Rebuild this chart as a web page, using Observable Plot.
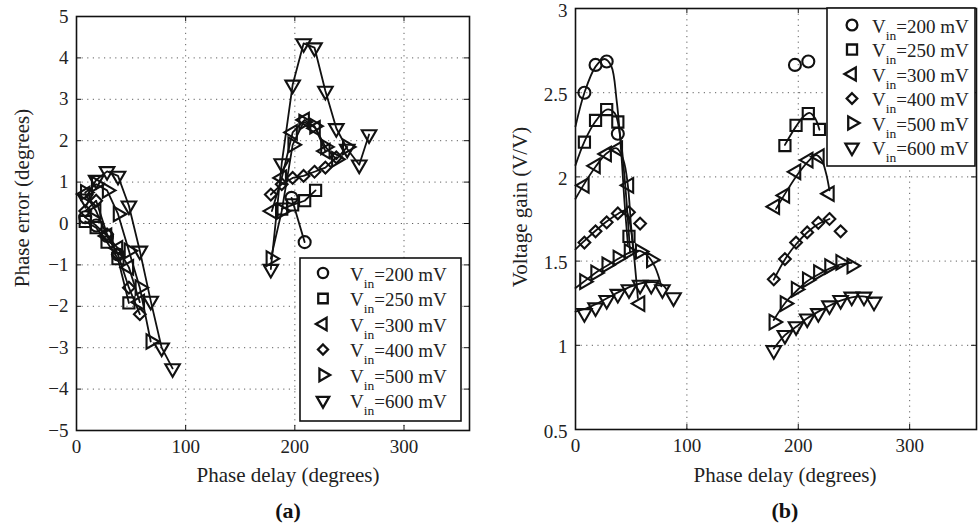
<!DOCTYPE html>
<html>
<head>
<meta charset="utf-8">
<script src="https://cdn.jsdelivr.net/npm/d3@7"></script>
<script src="https://cdn.jsdelivr.net/npm/@observablehq/plot@0.6"></script>
<style>
  html, body { margin: 0; padding: 0; background: #fff; }
  #wrap { position: relative; width: 979px; height: 528px; overflow: hidden; background: #fff; }
  .panel { position: absolute; top: 0; }
  #overlay { position: absolute; left: 0; top: 0; }
</style>
</head>
<body>
<div id="wrap">
  <div id="panelA" class="panel" style="left:0px"></div>
  <div id="panelB" class="panel" style="left:490px"></div>
</div>
<script>
// ---------------- data ----------------
const vinLabels = ["200", "250", "300", "400", "500", "600"];
const xTicks = [0, 100, 200, 300];
const errTicks = [-5, -4, -3, -2, -1, 0, 1, 2, 3, 4, 5];
const gainTicks = [0.5, 1, 1.5, 2, 2.5, 3];

// Vin = 200 mV
const delay200 = [8, 18, 28, 38, 197, 209];
const error200 = [0.15, -0.05, -0.3, -0.75, 0.62, -0.45];
const gain200  = [2.50, 2.665, 2.685, 2.256, 2.665, 2.685];
const fitDelay200 = [0, 8, 18, 26, 32, 37, 41, 44, 47];
const fitGain200  = [2.30, 2.50, 2.655, 2.70, 2.66, 2.45, 2.15, 1.85, 1.60];

// Vin = 250 mV
const delay250 = [8, 18, 28, 38, 48, 188, 198, 209, 219];
const error250 = [0.05, -0.1, -0.45, -0.85, -1.92, 0.35, 0.45, 0.55, 0.8];
const gain250  = [2.206, 2.335, 2.40, 2.326, 1.647, 2.186, 2.306, 2.376, 2.282];
const fitDelay250 = [0, 8, 18, 28, 35, 40, 44, 47, 49, null, 188, 198, 205, 210, 215, 219];
const fitGain250  = [2.07, 2.21, 2.33, 2.40, 2.38, 2.25, 2.0, 1.75, 1.55, null, 2.19, 2.30, 2.36, 2.38, 2.35, 2.28];

// Vin = 300 mV
const delay300 = [8, 18, 28, 38, 48, 58, 179, 188, 198, 209, 219, 228];
const error300 = [0.71, 0.3, -0.3, -0.6, -1.06, -1.9, 0.3, 1.1, 2.2, 2.5, 2.3, 1.75];
const gain300  = [1.95, 2.066, 2.136, 2.166, 1.95, 1.248, 1.823, 1.89, 2.03, 2.10, 2.12, 1.90];
const fitDelay300 = [0, 8, 18, 28, 37, 43, 47, 50, 53, 56, null, 180, 190, 200, 210, 216, 221, 225, 228];
const fitGain300  = [1.87, 1.96, 2.06, 2.14, 2.17, 2.1, 1.95, 1.7, 1.5, 1.28, null, 1.81, 1.92, 2.02, 2.10, 2.13, 2.10, 2.02, 1.92];

// Vin = 400 mV
const delay400 = [8, 18, 28, 38, 48, 58, 178, 188, 198, 208, 218, 228, 238];
const error400 = [0.3, 0.55, -0.26, -0.75, -1.55, -2.19, 0.7, 0.95, 1.1, 1.15, 1.25, 1.35, 1.6];
const gain400  = [1.61, 1.677, 1.73, 1.783, 1.79, 1.723, 1.392, 1.512, 1.61, 1.67, 1.727, 1.75, 1.677];
const fitDelay400 = [0, 8, 18, 28, 38, 45, 49, 52, null, 178, 188, 198, 208, 218, 228];
const fitGain400  = [1.57, 1.62, 1.68, 1.735, 1.78, 1.80, 1.72, 1.55, null, 1.39, 1.51, 1.60, 1.67, 1.72, 1.75];

// Vin = 500 mV
const delay500 = [8, 18, 28, 38, 48, 58, 68, 178, 188, 198, 208, 218, 228, 238, 248];
const error500 = [0.75, 0.95, 0.8, 0.23, -0.66, -1.55, -2.85, -0.85, 0.3, 1.9, 2.45, 2.35, 1.85, 1.55, 1.85];
const gain500  = [1.378, 1.43, 1.478, 1.518, 1.557, 1.557, 1.507, 1.138, 1.248, 1.332, 1.388, 1.432, 1.468, 1.492, 1.472];
const fitDelay500 = [0, 10, 20, 30, 40, 50, 58, 65, 71, 75, 77, null, 178, 188, 198, 208, 218, 228, 238, 248];
const fitGain500  = [1.34, 1.39, 1.44, 1.48, 1.52, 1.555, 1.56, 1.53, 1.47, 1.4, 1.35, null, 1.15, 1.25, 1.32, 1.38, 1.42, 1.455, 1.48, 1.49];

// Vin = 600 mV
const delay600 = [8, 18, 28, 38, 48, 58, 68, 78, 88, 178, 188, 198, 208, 218, 228, 238, 248, 259, 268];
const error600 = [0.6, 1.05, 1.26, 1.15, 0.43, -0.66, -1.87, -3.0, -3.5, -1.1, 1.45, 3.35, 4.35, 4.25, 3.2, 2.3, 1.8, 1.42, 2.15];
const gain600  = [1.19, 1.224, 1.268, 1.304, 1.332, 1.358, 1.358, 1.332, 1.284, 0.97, 1.06, 1.112, 1.158, 1.19, 1.236, 1.268, 1.288, 1.288, 1.258];
const fitDelay600 = [0, 10, 20, 30, 40, 50, 60, 70, 78, 82, null, 178, 188, 198, 208, 218, 228, 238, 248, 258, 266];
const fitGain600  = [1.2, 1.22, 1.25, 1.285, 1.32, 1.35, 1.37, 1.375, 1.36, 1.33, null, 0.98, 1.06, 1.11, 1.16, 1.20, 1.235, 1.265, 1.285, 1.29, 1.28];

// ---------------- assembly ----------------
const seriesData = {
  "200": {delay: delay200, err: error200, gain: gain200, fd: fitDelay200, fg: fitGain200},
  "250": {delay: delay250, err: error250, gain: gain250, fd: fitDelay250, fg: fitGain250},
  "300": {delay: delay300, err: error300, gain: gain300, fd: fitDelay300, fg: fitGain300},
  "400": {delay: delay400, err: error400, gain: gain400, fd: fitDelay400, fg: fitGain400},
  "500": {delay: delay500, err: error500, gain: gain500, fd: fitDelay500, fg: fitGain500},
  "600": {delay: delay600, err: error600, gain: gain600, fd: fitDelay600, fg: fitGain600}
};
const markerStyle = {
  "200": {symbol: "circle",   rotate: 0,   r: 6.0},
  "250": {symbol: "square",   rotate: 0,   r: 6.3},
  "300": {symbol: "triangle", rotate: -90, r: 5.4},
  "400": {symbol: "diamond2", rotate: 0,   r: 5.3},
  "500": {symbol: "triangle", rotate: 90,  r: 5.4},
  "600": {symbol: "triangle", rotate: 180, r: 5.4}
};
const INK = "#111";
const FONT = "Liberation Serif, Times New Roman, serif";

function measured(v) {
  const s = seriesData[v];
  return s.delay.map((d, i) => ({delay: d, err: s.err[i], gain: s.gain[i], cluster: d < 120 ? "low" : "high"}));
}
function fitted(v) {
  const s = seriesData[v];
  return s.fd.map((d, i) => ({delay: d, gain: s.fg[i]}));
}
const fmt = d => (d < 0 ? "\u2212" + Math.abs(d) : String(d));

function frameMarks(cfg) {
  const pw = cfg.width - cfg.marginLeft - cfg.marginRight;
  const ph = cfg.height - cfg.marginTop - cfg.marginBottom;
  const yInner = cfg.yTicks.filter(t => t > cfg.yDomain[0] && t < cfg.yDomain[1]);
  const xInner = xTicks.filter(t => t > 0);
  const grid = {stroke: "#444", strokeOpacity: 0.85, strokeWidth: 1, strokeDasharray: "1.2,4.4"};
  return [
    Plot.ruleX(xInner, {...grid}),
    Plot.ruleY(yInner, {...grid}),
    Plot.ruleX(xTicks, {insetTop: ph - 5, stroke: INK, strokeWidth: 1}),
    Plot.ruleX(xTicks, {insetBottom: ph - 5, stroke: INK, strokeWidth: 1}),
    Plot.ruleY(cfg.yTicks, {insetRight: pw - 5, stroke: INK, strokeWidth: 1}),
    Plot.ruleY(cfg.yTicks, {insetLeft: pw - 5, stroke: INK, strokeWidth: 1})
  ];
}

function axesMarks(cfg) {
  return [
    Plot.frame({stroke: INK, strokeWidth: 1.6}),
    Plot.axisX({ticks: xTicks, tickSize: 0, tickPadding: 9, fontSize: 19, tickFormat: fmt, label: null, fill: "#222"}),
    Plot.axisY({ticks: cfg.yTicks, tickSize: 0, tickPadding: 8, fontSize: 19, tickFormat: fmt, label: null, fill: "#222", dy: cfg.labelDy})
  ];
}

function dotMarks(key) {
  return vinLabels.map(v => {
    const st = markerStyle[v];
    return Plot.dot(measured(v), {
      x: "delay", y: key, symbol: st.symbol, rotate: st.rotate, r: st.r,
      stroke: INK, strokeWidth: 2.1, fill: "none"
    });
  });
}

// ---------- panel (a): phase error ----------
const cfgA = {width: 480, height: 528, marginLeft: 76, marginRight: 11, marginTop: 16, marginBottom: 98,
              yTicks: errTicks, yDomain: [-5, 5], labelDy: 0};
const plotA = Plot.plot({
  width: cfgA.width, height: cfgA.height,
  marginLeft: cfgA.marginLeft, marginRight: cfgA.marginRight, marginTop: cfgA.marginTop, marginBottom: cfgA.marginBottom,
  x: {domain: [0, 360]},
  y: {domain: cfgA.yDomain},
  style: {fontFamily: FONT, background: "transparent", color: INK},
  marks: [
    ...frameMarks(cfgA),
    ...vinLabels.map(v => Plot.line(measured(v), {x: "delay", y: "err", z: "cluster", stroke: INK, strokeWidth: 1.8})),
    ...dotMarks("err"),
    ...axesMarks(cfgA)
  ]
});
document.getElementById("panelA").appendChild(plotA);

// ---------- panel (b): voltage gain ----------
const cfgB = {width: 489, height: 528, marginLeft: 85, marginRight: 3, marginTop: 8, marginBottom: 99,
              yTicks: gainTicks, yDomain: [0.5, 3], labelDy: 2};
const plotB = Plot.plot({
  width: cfgB.width, height: cfgB.height,
  marginLeft: cfgB.marginLeft, marginRight: cfgB.marginRight, marginTop: cfgB.marginTop, marginBottom: cfgB.marginBottom,
  x: {domain: [0, 360]},
  y: {domain: cfgB.yDomain},
  style: {fontFamily: FONT, background: "transparent", color: INK},
  marks: [
    ...frameMarks(cfgB),
    ...vinLabels.map(v => Plot.line(fitted(v), {x: "delay", y: "gain", curve: "catmull-rom", stroke: INK, strokeWidth: 1.8})),
    ...dotMarks("gain"),
    ...axesMarks(cfgB)
  ]
});
document.getElementById("panelB").appendChild(plotB);

// ---------- overlay: titles, panel letters, legends ----------
const svg = d3.select("#wrap").append("svg")
  .attr("id", "overlay").attr("width", 979).attr("height", 528)
  .style("font-family", FONT).style("pointer-events", "none");

function title(x, y, text, rotate) {
  svg.append("text")
    .attr("transform", `translate(${x},${y})` + (rotate ? " rotate(-90)" : ""))
    .attr("text-anchor", "middle").attr("font-size", 21).attr("fill", "#222")
    .text(text);
}
title(288, 482, "Phase delay (degrees)");
title(785, 482, "Phase delay (degrees)");
title(29, 198, "Phase error (degrees)", true);
title(527, 207, "Voltage gain (V/V)", true);

svg.append("text").attr("x", 288).attr("y", 518).attr("text-anchor", "middle")
  .attr("font-size", 22).attr("font-weight", "bold").attr("fill", INK).text("(a)");
svg.append("text").attr("x", 785).attr("y", 518).attr("text-anchor", "middle")
  .attr("font-size", 22).attr("font-weight", "bold").attr("fill", INK).text("(b)");

const d3Sym = {circle: d3.symbolCircle, square: d3.symbolSquare, triangle: d3.symbolTriangle, diamond2: d3.symbolDiamond2};
function legend(box, symX, textX, row0, rowStep, k) {
  svg.append("rect").attr("x", box.x).attr("y", box.y).attr("width", box.w).attr("height", box.h)
    .attr("fill", "#fff").attr("stroke", INK).attr("stroke-width", 1.6);
  vinLabels.forEach((v, i) => {
    const cy = row0 + i * rowStep;
    const st = markerStyle[v];
    const r = st.r * k;
    if (st.symbol === "circle") {
      svg.append("circle").attr("cx", symX).attr("cy", cy).attr("r", r)
        .attr("fill", "none").attr("stroke", INK).attr("stroke-width", 2.3);
    } else {
      svg.append("path").attr("d", d3.symbol(d3Sym[st.symbol], r * r * Math.PI)())
        .attr("transform", `translate(${symX},${cy}) rotate(${st.rotate})`)
        .attr("fill", "none").attr("stroke", INK).attr("stroke-width", 2.3);
    }
    const t = svg.append("text").attr("x", textX).attr("y", cy + 7.5)
      .attr("font-size", 19).attr("fill", "#222");
    t.append("tspan").text("V");
    t.append("tspan").attr("dy", 7).attr("font-size", 13.5).text("in");
    t.append("tspan").attr("dy", -7).text(`=${v} mV`);
  });
}
legend({x: 300, y: 258, w: 161, h: 163}, 323, 350, 273, 25.5, 0.85);
legend({x: 827, y: 8, w: 148, h: 158}, 852, 872, 25, 24.5, 0.9);
</script>
</body>
</html>
